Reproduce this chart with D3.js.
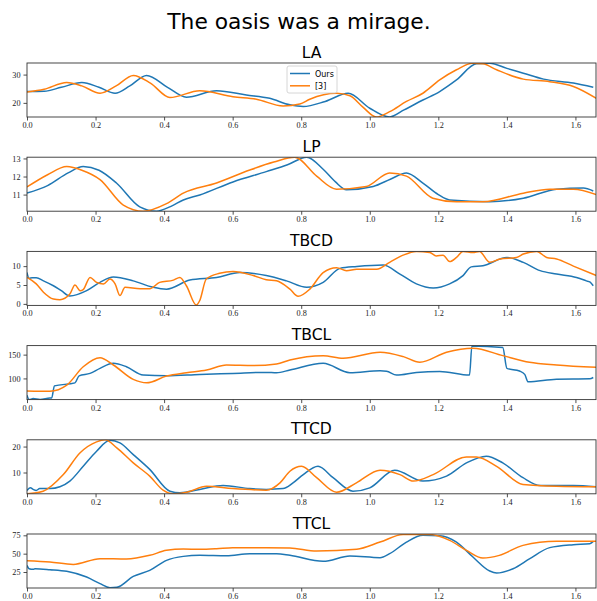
<!DOCTYPE html>
<html><head><meta charset="utf-8">
<script src="https://cdn.jsdelivr.net/npm/d3@7"></script>
<style>body{margin:0;background:#fff}</style>
</head><body>
<svg id="c" width="597" height="601"></svg>
<script>
const chartTitle = "The oasis was a mirage.";
const panelNames = ["LA","LP","TBCD","TBCL","TTCD","TTCL"];
const seriesNames = ["Ours","[3]"];
const xTicks = [0.0,0.2,0.4,0.6,0.8,1.0,1.2,1.4,1.6];
const xDomain = [0, 1.66];
const yDomains = [[15,34.1],[10.08,13.07],[-0.4,13.9],[55.5,169],[1.8,22.6],[3.2,76.8]];
const yTicks = [[20,30],[11,12,13],[0,5,10],[100,150],[10,20],[25,50,75]];

// LA
const laOursX = [0,0.05,0.1,0.16,0.21,0.257,0.3,0.349,0.41,0.465,0.553,0.64,0.708,0.767,0.806,0.87,0.937,1.0,1.058,1.1,1.155,1.204,1.253,1.311,1.35,1.4,1.448,1.507,1.594,1.652];
const laOursY = [24,24.1,25.5,27.2,25.5,23.4,26,29.7,25.5,22,24.3,22.8,21.6,19.3,18.7,20.5,23.4,18.1,15,17.5,21,24,28.1,33.8,34,32.2,30.5,28.4,27,25.5];
const laRefX = [0,0.05,0.116,0.16,0.213,0.26,0.31,0.36,0.417,0.504,0.601,0.669,0.747,0.796,0.825,0.903,0.942,0.98,1.019,1.058,1.107,1.155,1.204,1.253,1.3,1.33,1.37,1.448,1.525,1.594,1.661];
const laRefY = [23.8,24.8,27.2,26,23.4,26,29.7,27,21.9,24.3,22.2,21.3,18.9,19.6,21.3,23.4,22.5,18.5,15,16.9,20.5,23.4,28.1,31.7,34,33.8,31.7,28.4,27.5,25.8,21.6];
// LP
const lpOursX = [0,0.06,0.12,0.164,0.21,0.261,0.329,0.378,0.42,0.456,0.504,0.601,0.698,0.76,0.816,0.864,0.9,0.932,1.01,1.06,1.107,1.155,1.2,1.233,1.35,1.448,1.545,1.623,1.652];
const lpOursY = [11.08,11.5,12.2,12.55,12.35,11.64,10.32,10.08,10.35,10.7,10.98,11.7,12.27,12.65,13.07,12.4,11.7,11.27,11.45,11.85,12.2,11.64,11.0,10.7,10.6,10.8,11.3,11.36,11.2];
const lpRefX = [0,0.06,0.116,0.16,0.213,0.281,0.339,0.407,0.456,0.553,0.65,0.72,0.781,0.845,0.903,0.99,1.058,1.107,1.184,1.253,1.33,1.448,1.525,1.594,1.661];
const lpRefY = [11.42,12.1,12.55,12.35,11.83,10.42,10.08,10.5,11.08,11.64,12.36,12.8,13.07,12.02,11.3,11.45,12.2,12.02,10.8,10.6,10.6,11.08,11.3,11.3,11.0];
// TBCD
const tbcdOursX = [0,0.006,0.015,0.027,0.048,0.077,0.1,0.125,0.174,0.213,0.252,0.31,0.368,0.407,0.475,0.553,0.621,0.698,0.757,0.816,0.864,0.913,0.962,1.039,1.088,1.136,1.185,1.233,1.272,1.296,1.33,1.4,1.448,1.497,1.545,1.603,1.632,1.642,1.652];
const tbcdOursY = [8.3,6.8,6.9,6.9,6.1,4.8,3.5,2.1,3.5,5.7,7.1,6.1,4.4,3.9,6.3,7.0,8.3,7.5,6.1,4.4,5.7,9.4,9.9,10.3,7.9,5.3,4.2,5.3,7.5,9.8,10.1,12.3,11,8.8,7.9,7.0,6.1,5.8,4.8];
const tbcdRefX = [0,0.027,0.048,0.077,0.096,0.125,0.14,0.155,0.164,0.184,0.203,0.223,0.242,0.257,0.271,0.286,0.33,0.358,0.387,0.427,0.446,0.465,0.494,0.504,0.523,0.562,0.601,0.66,0.698,0.728,0.767,0.791,0.825,0.864,0.903,0.932,0.962,1.02,1.058,1.097,1.136,1.175,1.194,1.214,1.233,1.253,1.272,1.301,1.32,1.35,1.38,1.428,1.448,1.487,1.516,1.545,1.594,1.661];
const tbcdRefY = [7.0,5.3,3.1,1.3,1.1,2.6,5.0,3.5,3.8,7.0,5.7,5.3,6.6,5.3,2.2,4.4,4.0,4.0,5.7,6.3,7.0,4.8,-0.3,0.9,6.6,8.1,8.6,7.5,6.4,6.1,3.9,2.0,3.9,8.3,9.6,8.8,9.2,9.2,11,12.9,13.9,13.6,12.7,12.9,11.2,12.3,13.9,13.6,13.9,11,11.9,12.3,13.2,13.9,12.3,11.9,10.0,7.5];
// TBCL
const tbclOursX = [0,0.006,0.018,0.038,0.067,0.072,0.08,0.14,0.152,0.184,0.213,0.252,0.29,0.339,0.407,0.504,0.601,0.698,0.728,0.767,0.864,0.942,1.03,1.049,1.078,1.136,1.204,1.291,1.298,1.388,1.4,1.437,1.452,1.462,1.545,1.642,1.652];
const tbclOursY = [64.6,55.5,57.6,55.5,58.9,59,84.3,90.7,105.5,110.6,121.2,131.8,124.6,107,105.5,108.5,110.6,112.7,112,117.6,131.8,111.9,116,115,107,112.7,114.8,107,168.4,164.8,121.2,115.5,108.5,92.8,98.5,99.2,102];
const tbclRefX = [0,0.067,0.116,0.164,0.213,0.252,0.31,0.349,0.407,0.465,0.524,0.582,0.66,0.728,0.767,0.864,0.922,1.03,1.098,1.146,1.224,1.301,1.388,1.466,1.545,1.661];
const tbclRefY = [73.7,73,85.8,124.6,143.6,128.2,97.9,90.7,104.9,111.9,117.6,128.2,127,130.3,138.8,147.9,142.4,155.1,145.8,133.9,155.1,163.6,147.9,133.9,128.2,123.3];
// TTCD
const ttcdOursX = [0,0.01,0.018,0.027,0.037,0.067,0.096,0.125,0.164,0.203,0.242,0.271,0.31,0.358,0.417,0.446,0.504,0.572,0.65,0.698,0.747,0.776,0.806,0.849,0.893,0.951,1.0,1.073,1.155,1.224,1.282,1.34,1.388,1.447,1.497,1.594,1.661];
const ttcdOursY = [3.1,4.1,3.5,3.1,3.8,3.8,4.5,6.7,12.4,18.2,22.4,21.4,16.9,11.2,2.8,2.2,3.5,5.0,3.8,3.5,3.8,6,9.2,12.4,8,2.8,4.1,10.9,6.7,8.6,13.7,16.3,13.7,8,5.0,5.0,4.5];
const ttcdRefX = [0,0.047,0.106,0.155,0.203,0.228,0.262,0.31,0.358,0.397,0.426,0.466,0.524,0.6,0.698,0.738,0.767,0.801,0.845,0.903,0.961,1.03,1.088,1.127,1.185,1.282,1.311,1.37,1.447,1.545,1.661];
const ttcdRefY = [1.8,2.8,9.2,17.6,21.8,22.6,19.5,13.7,8.6,3.2,1.8,2.4,4.7,3.8,3.2,6,10.5,12.4,8,2.4,6,10.9,9.2,6.7,9.2,16.0,16.0,12.4,5.4,4.7,4.5];
// TTCL
const ttclOursX = [0,0.006,0.018,0.023,0.067,0.116,0.174,0.213,0.242,0.262,0.31,0.358,0.407,0.456,0.504,0.582,0.65,0.728,0.767,0.864,0.942,1.03,1.058,1.107,1.155,1.204,1.253,1.301,1.35,1.37,1.418,1.467,1.525,1.594,1.642,1.652];
const ttclOursY = [34,29.5,28.6,29.5,28.2,25.9,18.1,9.1,3.6,4.1,19.0,27.2,40.9,46.3,47.7,47,50,50,47.7,39.5,46.8,44.5,50,65.8,75,74.5,65.8,45.4,26.3,23.6,29.5,43.2,58.2,62.3,63.6,66.8];
const ttclRefX = [0,0.067,0.135,0.213,0.29,0.358,0.407,0.456,0.504,0.553,0.6,0.698,0.767,0.845,0.962,1.03,1.097,1.175,1.233,1.282,1.33,1.378,1.447,1.545,1.661];
const ttclRefY = [40.4,38.6,35.4,43.2,42.7,47.7,54.5,56.3,56,56.8,58.2,58.2,57.7,53.6,56,65.8,76,76,68.2,54.5,44,47.7,61.3,66.8,66.8];

const panels = [
  [[laOursX,laOursY],[laRefX,laRefY]],
  [[lpOursX,lpOursY],[lpRefX,lpRefY]],
  [[tbcdOursX,tbcdOursY],[tbcdRefX,tbcdRefY]],
  [[tbclOursX,tbclOursY],[tbclRefX,tbclRefY]],
  [[ttcdOursX,ttcdOursY],[ttcdRefX,ttcdRefY]],
  [[ttclOursX,ttclOursY],[ttclRefX,ttclRefY]]
];
const colors = ["#1f77b4","#ff7f0e"];

const svg = d3.select("#c");
const left = 27, right = 596, top0 = 63, step = 94.2, ph = 54;
const tickFont = "'Liberation Serif','DejaVu Serif',serif";
const sansFont = "'DejaVu Sans',sans-serif";

svg.append("text").attr("x", 299).attr("y", 29).attr("text-anchor","middle")
  .attr("font-family", sansFont).attr("font-size", 21.8).attr("fill","#000").text(chartTitle);

const x = d3.scaleLinear().domain(xDomain).range([left, right]);

panels.forEach((series, i) => {
  const top = top0 + i*step, bottom = top + ph;
  const y = d3.scaleLinear().domain(yDomains[i]).range([bottom, top]);
  const g = svg.append("g");
  const cid = "clip"+i;
  svg.append("clipPath").attr("id", cid).append("rect")
    .attr("x", left).attr("y", top).attr("width", right-left).attr("height", ph);

  g.append("text").attr("x", (left+right)/2).attr("y", top-5.5).attr("text-anchor","middle")
    .attr("font-family", sansFont).attr("font-size", 15.6).attr("fill","#000").text(panelNames[i]);

  const line = d3.line().x(d => x(d[0])).y(d => y(d[1])).curve(d3.curveMonotoneX);
  series.forEach((s, k) => {
    const pts = s[0].map((xv, j) => [xv, s[1][j]]);
    g.append("path").attr("d", line(pts)).attr("fill","none")
      .attr("stroke", colors[k]).attr("stroke-width", 1.5)
      .attr("clip-path", `url(#${cid})`);
  });

  const xa = g.append("g").attr("transform", `translate(0,${bottom})`)
    .call(d3.axisBottom(x).tickValues(xTicks).tickFormat(d3.format(".1f")).tickSizeOuter(0).tickSize(3.5).tickPadding(2));
  const ya = g.append("g").attr("transform", `translate(${left},0)`)
    .call(d3.axisLeft(y).tickValues(yTicks[i]).tickFormat(d3.format("d")).tickSizeOuter(0).tickSize(3.5).tickPadding(3));
  [xa, ya].forEach(a => {
    a.select(".domain").remove();
    a.selectAll("line").attr("stroke","#222").attr("stroke-width",0.8);
    a.selectAll("text").attr("font-family", tickFont).attr("font-size", 8.2).attr("fill","#222");
  });
  xa.selectAll("text").attr("dy","0.66em");

  g.append("rect").attr("x", left).attr("y", top).attr("width", right-left).attr("height", ph)
    .attr("fill","none").attr("stroke","#333").attr("stroke-width",0.9);

  if (i === 0) {
    const lg = g.append("g").attr("transform", `translate(${287},${66})`);
    lg.append("rect").attr("x",0).attr("y",0).attr("width",50).attr("height",27).attr("rx",2)
      .attr("fill","#fff").attr("fill-opacity",0.8).attr("stroke","#ccc").attr("stroke-width",0.8);
    seriesNames.forEach((nm, k) => {
      const yy = 7.5 + k*12.3;
      lg.append("line").attr("x1",3).attr("x2",23).attr("y1",yy).attr("y2",yy)
        .attr("stroke", colors[k]).attr("stroke-width",1.5);
      lg.append("text").attr("x",28).attr("y",yy+3).attr("font-family",sansFont)
        .attr("font-size",8).attr("fill","#000").text(nm);
    });
  }
});
</script>
</body></html>
